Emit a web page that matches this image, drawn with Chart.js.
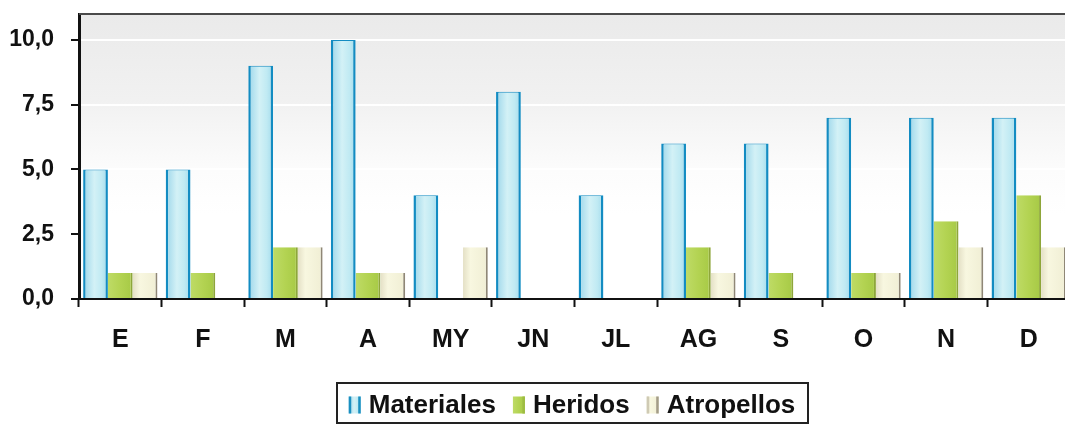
<!DOCTYPE html>
<html>
<head>
<meta charset="utf-8">
<script src="https://cdn.jsdelivr.net/npm/chart.js@4.4.0/dist/chart.umd.min.js"></script>
<style>
  html, body { margin: 0; padding: 0; background: #fff; overflow: hidden; }
  #wrap { width: 1065px; height: 425px; overflow: hidden; position: relative; }
  canvas { display: block; }
</style>
</head>
<body>
<div id="wrap"><canvas id="c" width="1072" height="425"></canvas></div>
<script>
// Monthly accident counts by type
const months = ['E', 'F', 'M', 'A', 'MY', 'JN', 'JL', 'AG', 'S', 'O', 'N', 'D'];
const materiales = [5, 5, 9, 10, 4, 8, 4, 6, 6, 7, 7, 7];
const heridos    = [1, 1, 2, 1, 0, 0, 0, 2, 1, 1, 3, 4];
const atropellos = [1, 0, 2, 1, 2, 0, 0, 1, 0, 1, 2, 2];
const yTickValues = [0, 2.5, 5, 7.5, 10];

const FONT = "'Liberation Sans', Arial, Helvetica, sans-serif";
const CAT_PCT = 0.9;

// Horizontal shading across each bar, positioned from the x scale
function barShade(stops, fallback) {
  return (c) => {
    const chart = c.chart;
    const xs = chart.scales.x;
    if (c.type !== 'data' || !xs || !chart.chartArea) return fallback;
    const n = chart.data.labels.length;
    const cat = xs.width / n;
    const center = xs.getPixelForValue(c.dataIndex);
    const group = cat * CAT_PCT;
    const nds = chart.data.datasets.length;
    const w = group / nds;
    const left = center - group / 2 + c.datasetIndex * w;
    const g = chart.ctx.createLinearGradient(left, 0, left + w, 0);
    stops.forEach(([o, col]) => g.addColorStop(o, col));
    return g;
  };
}

const shadeMat = [[0, '#9cd6ea'], [0.45, '#d3f1f6'], [0.75, '#c0eaf3'], [1, '#a3dbec']];
const shadeHer = [[0, '#bedb66'], [0.5, '#b3d352'], [1, '#a6c945']];
const shadeAtr = [[0, '#e4e0c6'], [0.3, '#f8f7e0'], [1, '#f0eed4']];

// Plot background and top frame line
const plotFrame = {
  id: 'plotFrame',
  beforeDraw(chart) {
    const { ctx, chartArea: a } = chart;
    const g = ctx.createLinearGradient(0, a.top, 0, a.bottom);
    g.addColorStop(0, '#eaeaea');
    g.addColorStop(0.3, '#f1f1f1');
    g.addColorStop(0.55, '#fcfcfc');
    g.addColorStop(0.7, '#ffffff');
    g.addColorStop(1, '#ffffff');
    ctx.save();
    ctx.fillStyle = g;
    ctx.fillRect(a.left, a.top, a.right - a.left, a.bottom - a.top);
    ctx.restore();
  },
  afterDraw(chart) {
    const { ctx, chartArea: a } = chart;
    ctx.save();
    ctx.strokeStyle = '#4a4a4a';
    ctx.lineWidth = 2;
    ctx.beginPath();
    ctx.moveTo(a.left, a.top);
    ctx.lineTo(chart.width, a.top);
    ctx.stroke();
    ctx.restore();
  }
};

// Boxed legend under the axis
const boxedLegend = {
  id: 'boxedLegend',
  afterDraw(chart) {
    const { ctx } = chart;
    const font = `bold 26px ${FONT}`;
    const markW = 12, markH = 17, gap = 8, spacing = 17, pad = 12;
    const cy = 405;
    ctx.save();
    ctx.font = font;
    const items = chart.data.datasets.map((ds) => ({ ds, tw: ctx.measureText(ds.label).width }));
    let total = 0;
    items.forEach((it, i) => { total += markW + gap + it.tw + (i ? spacing : 0); });
    const center = 572;
    let x = center - total / 2;
    // frame
    ctx.strokeStyle = '#222';
    ctx.lineWidth = 2;
    ctx.strokeRect(Math.round(x - pad), 383, Math.round(total + pad * 2), 40);
    items.forEach((it, i) => {
      if (i) x += spacing;
      const m = it.ds.legendMark;
      const top = cy - markH / 2;
      const g = ctx.createLinearGradient(x, 0, x + markW, 0);
      m.stops.forEach(([o, col]) => g.addColorStop(o, col));
      ctx.fillStyle = g;
      ctx.fillRect(x, top, markW, markH);
      if (m.edgeL) { ctx.fillStyle = m.edgeL; ctx.fillRect(x, top, 2.5, markH); }
      if (m.edgeR) { ctx.fillStyle = m.edgeR; ctx.fillRect(x + markW - 2.5, top, 2.5, markH); }
      x += markW + gap;
      ctx.fillStyle = '#111';
      ctx.textBaseline = 'middle';
      ctx.textAlign = 'left';
      ctx.fillText(it.ds.label, x, cy + 1);
      x += it.tw;
    });
    ctx.restore();
  }
};

const commonBar = {
  borderSkipped: 'start',
  categoryPercentage: CAT_PCT,
  barPercentage: 1
};

new Chart(document.getElementById('c'), {
  type: 'bar',
  data: {
    labels: months,
    datasets: [
      Object.assign({
        label: 'Materiales',
        data: materiales,
        backgroundColor: barShade(shadeMat, '#c4ebf3'),
        borderColor: '#138cc2',
        borderWidth: { left: 2.5, right: 2.5, top: 1, bottom: 0 },
        legendMark: { stops: shadeMat, edgeL: '#1a8fc0', edgeR: '#1a8fc0' }
      }, commonBar),
      Object.assign({
        label: 'Heridos',
        data: heridos,
        backgroundColor: barShade(shadeHer, '#b3d352'),
        borderColor: '#8ea63a',
        borderWidth: { left: 0, right: 2, top: 0, bottom: 0 },
        legendMark: { stops: shadeHer, edgeL: null, edgeR: '#9ebc44' }
      }, commonBar),
      Object.assign({
        label: 'Atropellos',
        data: atropellos,
        backgroundColor: barShade(shadeAtr, '#f6f4dc'),
        borderColor: '#8f8776',
        borderWidth: { left: 0, right: 2, top: 0, bottom: 0 },
        legendMark: { stops: shadeAtr, edgeL: '#cfcab4', edgeR: '#a39c88' }
      }, commonBar)
    ]
  },
  options: {
    responsive: false,
    animation: false,
    devicePixelRatio: 1,
    layout: { padding: { top: 14, left: 0, right: 2, bottom: 0 } },
    plugins: {
      legend: { display: false },
      tooltip: { enabled: false }
    },
    scales: {
      x: {
        offset: true,
        grid: {
          offset: true,
          drawOnChartArea: false,
          drawTicks: true,
          tickLength: 8,
          tickWidth: 2,
          tickColor: '#111'
        },
        border: { display: true, color: '#111', width: 2 },
        ticks: {
          color: '#111',
          padding: 18,
          font: { family: FONT, size: 25, weight: 'bold' }
        },
        afterFit(scale) { scale.height = 126; }
      },
      y: {
        min: 0,
        max: 11,
        afterBuildTicks(scale) {
          scale.ticks = yTickValues.map((v) => ({ value: v }));
        },
        grid: {
          color: (c) => (c.tick && c.tick.value === 0 ? 'rgba(0,0,0,0)' : '#ffffff'),
          lineWidth: 2,
          drawTicks: true,
          tickLength: 8,
          tickWidth: 2,
          tickColor: '#111'
        },
        border: { display: true, color: '#111', width: 3 },
        ticks: {
          color: '#111',
          padding: 17,
          font: { family: FONT, size: 23, weight: 'bold' },
          callback: (v) => Number(v).toFixed(1).replace('.', ',')
        },
        afterFit(scale) {
          scale.width = 79;
          scale.paddingTop = 0;
          scale.paddingBottom = 0;
        }
      }
    }
  },
  plugins: [plotFrame, boxedLegend]
});
</script>
</body>
</html>
